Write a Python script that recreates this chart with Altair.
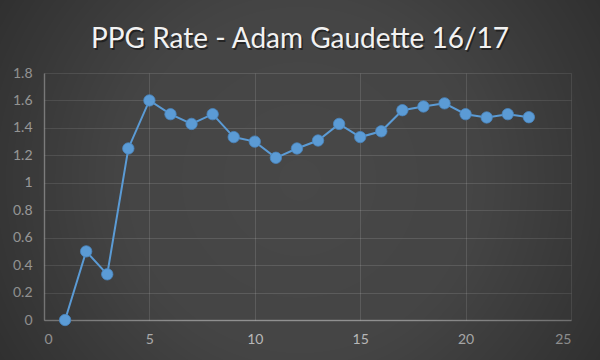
import altair as alt
import pandas as pd

title_text = "PPG Rate - Adam Gaudette 16/17"
games = list(range(1, 24))
ppg = [0.0, 0.5, 0.333, 1.25, 1.6, 1.5, 1.429, 1.5, 1.333, 1.3, 1.182, 1.25,
       1.308, 1.429, 1.333, 1.375, 1.529, 1.556, 1.579, 1.5, 1.476, 1.5, 1.478]
x_ticks = [0, 5, 10, 15, 20, 25]
y_ticks = [0, 0.2, 0.4, 0.6, 0.8, 1, 1.2, 1.4, 1.6, 1.8]

df = pd.DataFrame({"game": games, "ppg": ppg})

x = alt.X("game:Q", scale=alt.Scale(domain=[0, 25], nice=False),
          axis=alt.Axis(values=x_ticks, title=None, format="~g"))
y = alt.Y("ppg:Q", scale=alt.Scale(domain=[0, 1.8], nice=False),
          axis=alt.Axis(values=y_ticks, title=None, format="~g"))

one = pd.DataFrame({"t": [title_text]})

vignette = alt.Chart(one).mark_rect(
    fill=alt.Gradient(
        gradient="radial",
        x1=0.5, y1=0.5, x2=0.5, y2=0.5, r1=0, r2=0.75,
        stops=[alt.GradientStop(color="rgba(0,0,0,0)", offset=0),
               alt.GradientStop(color="rgba(0,0,0,0.05)", offset=0.4),
               alt.GradientStop(color="rgba(0,0,0,0.5)", offset=1)],
    ),
).encode(x=alt.value(-44), x2=alt.value(556), y=alt.value(-73), y2=alt.value(287))

title_shadow = alt.Chart(one).mark_text(
    font="Lato", fontSize=28, color="#000000", opacity=0.45, align="center",
    baseline="alphabetic",
).encode(text="t:N", x=alt.value(257.5), y=alt.value(-23.5))
title = alt.Chart(one).mark_text(
    font="Lato", fontSize=28, color="#f2f2f2", align="center", baseline="alphabetic",
).encode(text="t:N", x=alt.value(256), y=alt.value(-25))

line = alt.Chart(df).mark_line(color="#5b9bd5", strokeWidth=2).encode(x=x, y=y)
pts = alt.Chart(df).mark_point(filled=True, fill="#5b9bd5", opacity=1, size=130,
                               stroke="#4a86c0", strokeWidth=0.8).encode(x=x, y=y)

chart = alt.layer(vignette, title_shadow, title, line, pts).properties(
    width=527, height=247,
    autosize="none",
    padding={"left": 44, "top": 73, "right": 29, "bottom": 40},
    background="#484848",
).configure_view(stroke=None).configure_axis(
    gridColor="#ffffff", gridOpacity=0.13, gridWidth=1,
    domainColor="#ffffff", domainOpacity=0.35, domainWidth=1.5,
    ticks=False, labelColor="#c0c0c0", labelFont="Lato", labelFontSize=14,
    labelPadding=12, zindex=1,
).configure_axisX(grid=True).configure_axisY(grid=True)

chart.save("out.html", embed_options={"renderer": "svg", "actions": False})
